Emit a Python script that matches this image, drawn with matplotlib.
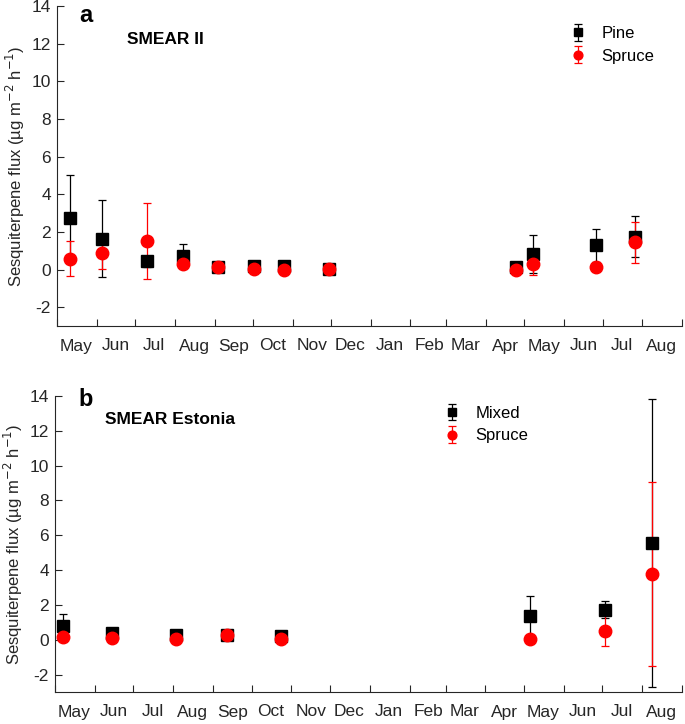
#!/usr/bin/env python3
"""Seasonal sesquiterpene fluxes at SMEAR II and SMEAR Estonia."""

import matplotlib
matplotlib.use("Agg")
import matplotlib.pyplot as plt
import matplotlib.dates as mdates
import numpy as np

plt.rcParams["font.family"] = ["Liberation Sans", "DejaVu Sans"]
plt.rcParams["axes.unicode_minus"] = False

# Panel a: SMEAR II
pine_dates = ["2014-05-11", "2014-06-05", "2014-07-10", "2014-08-07", "2014-09-04",
              "2014-10-02", "2014-10-25", "2014-11-29", "2015-04-24", "2015-05-08",
              "2015-06-26", "2015-07-26"]
pine_flux = [2.74, 1.63, 0.44, 0.71, 0.12, 0.2, 0.2, 0.02, 0.12, 0.83, 1.29, 1.73]
pine_err = [2.26, 2.04, 0.3, 0.62, 0.05, 0.05, 0.05, 0.05, 0.05, 1.0, 0.88, 1.09]

spruce_a_dates = pine_dates
spruce_a_flux = [0.57, 0.88, 1.5, 0.27, 0.12, 0.04, 0.0, 0.02, 0.0, 0.32, 0.14, 1.45]
spruce_a_err = [0.93, 0.85, 2.02, 0.1, 0.05, 0.05, 0.05, 0.05, 0.05, 0.6, 0.1, 1.1]

# Panel b: SMEAR Estonia
mixed_dates = ["2014-05-07", "2014-06-14", "2014-08-03", "2014-09-12", "2014-10-24",
               "2015-05-06", "2015-07-03", "2015-08-09"]
mixed_flux = [0.78, 0.4, 0.25, 0.25, 0.19, 1.34, 1.72, 5.55]
mixed_err = [0.71, 0.1, 0.05, 0.05, 0.05, 1.15, 0.48, 8.27]

spruce_b_dates = mixed_dates
spruce_b_flux = [0.15, 0.1, 0.02, 0.25, 0.02, 0.02, 0.53, 3.79]
spruce_b_err = [0.05, 0.05, 0.05, 0.05, 0.05, 0.05, 0.9, 5.27]

month_names = ["May", "Jun", "Jul", "Aug", "Sep", "Oct", "Nov", "Dec",
               "Jan", "Feb", "Mar", "Apr", "May", "Jun", "Jul", "Aug"]

dark = "#262626"


def to_dates(strings):
    return np.array(strings, dtype="datetime64[D]")


def style_axis(ax):
    start = np.datetime64("2014-05-01")
    end = np.datetime64("2015-09-01")
    ax.set_xlim(start, end)
    ax.set_ylim(-3, 14)
    ax.set_yticks(range(-2, 15, 2))
    ax.xaxis.set_major_locator(mdates.MonthLocator())
    ax.xaxis.set_major_formatter(plt.NullFormatter())
    mids = mdates.date2num(np.arange("2014-05", "2015-09", dtype="datetime64[M]")
                           .astype("datetime64[D]")) + 15
    ax.set_xticks(mids, minor=True)
    ax.set_xticklabels(month_names, minor=True)
    ax.tick_params(axis="x", which="minor", length=0, pad=9, labelsize=12.5, colors=dark)
    ax.tick_params(axis="x", which="major", direction="in", length=5, color=dark)
    ax.tick_params(axis="y", direction="in", length=5, pad=4.5, labelsize=12.5,
                   colors=dark)
    for side in ("top", "right"):
        ax.spines[side].set_visible(False)
    for side in ("left", "bottom"):
        ax.spines[side].set_color(dark)
        ax.spines[side].set_linewidth(0.8)
    ax.set_ylabel("Sesquiterpene flux (µg m$^{-2}$ h$^{-1}$)",
                  fontsize=12, color=dark, labelpad=3)


fig = plt.figure(figsize=(6.85, 7.24), dpi=100)
ax1 = fig.add_axes([57 / 685, 1 - 326 / 724, 625 / 685, 320 / 724])
ax2 = fig.add_axes([55 / 685, 1 - 692 / 724, 627 / 685, 296 / 724])

err_kw = dict(linestyle="none", capsize=3, elinewidth=0.9, capthick=0.9)
leg_kw = dict(loc="upper left", frameon=False, fontsize=12, handlelength=1.0,
              handletextpad=0.9, labelspacing=0.45, markerscale=0.7)

ax1.errorbar(to_dates(pine_dates), pine_flux, yerr=pine_err, fmt="s", color="black",
             markersize=8.5, label="Pine", **err_kw)
ax1.errorbar(to_dates(spruce_a_dates), spruce_a_flux, yerr=spruce_a_err, fmt="o",
             color="red", markersize=9, label="Spruce", **err_kw)
style_axis(ax1)
ax1.text(0.035, 0.97, "a", transform=ax1.transAxes, fontsize=17,
         fontweight="bold", va="center", ha="left")
ax1.text(70 / 625, 0.894, "SMEAR II", transform=ax1.transAxes, fontsize=12.5,
         fontweight="bold", va="center", ha="left")
ax1.legend(bbox_to_anchor=(498 / 625, 0.984), **leg_kw)

ax2.errorbar(to_dates(mixed_dates), mixed_flux, yerr=mixed_err, fmt="s", color="black",
             markersize=8.5, label="Mixed", **err_kw)
ax2.errorbar(to_dates(spruce_b_dates), spruce_b_flux, yerr=spruce_b_err, fmt="o",
             color="red", markersize=9, label="Spruce", **err_kw)
style_axis(ax2)
ax2.text(0.038, 0.987, "b", transform=ax2.transAxes, fontsize=17,
         fontweight="bold", va="center", ha="left")
ax2.text(50 / 627, 0.922, "SMEAR Estonia", transform=ax2.transAxes, fontsize=12.5,
         fontweight="bold", va="center", ha="left")
ax2.legend(bbox_to_anchor=(374 / 627, 1.017), **leg_kw)

fig.savefig("out.png", dpi=100)
